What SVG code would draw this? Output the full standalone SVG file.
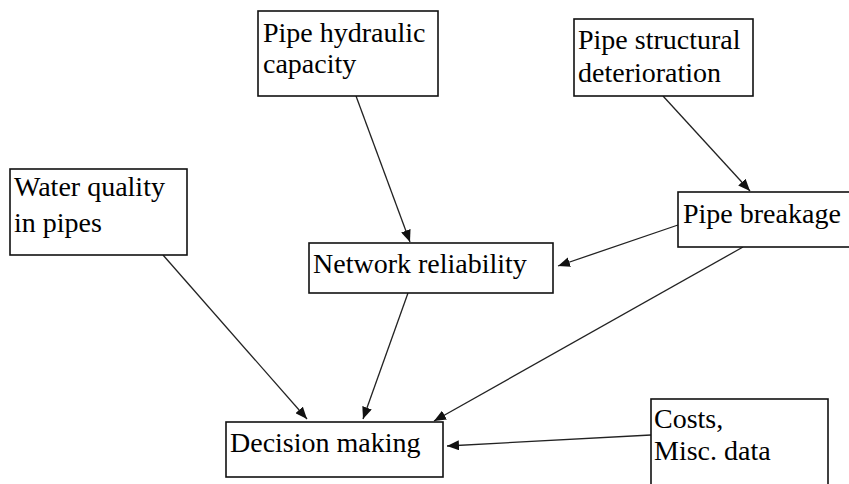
<svg xmlns="http://www.w3.org/2000/svg" width="849" height="484" viewBox="0 0 849 484">
<style>
.box{fill:#fff;stroke:#111;stroke-width:1.6}
.t{font-family:'Liberation Serif','Times New Roman',serif;font-size:28px;fill:#000}
.c{stroke:#222;stroke-width:1.3;fill:none;marker-end:url(#ah)}
</style>
<defs>
<marker id="ah" viewBox="0 0 12 10" refX="12" refY="5" markerWidth="12" markerHeight="10" markerUnits="userSpaceOnUse" orient="auto">
<path d="M0,0 L12,5 L0,10 Z" fill="#111"/>
</marker>
</defs>
<rect width="849" height="484" fill="#fff"/>
<g id="connectors">
<line class="c" x1="356" y1="96" x2="410" y2="242"/>
<line class="c" x1="663" y1="96" x2="750" y2="191"/>
<line class="c" x1="678" y1="225" x2="558" y2="266"/>
<line class="c" x1="163" y1="255" x2="307" y2="419"/>
<line class="c" x1="408" y1="293" x2="363" y2="419"/>
<line class="c" x1="743" y1="247" x2="434" y2="421"/>
<line class="c" x1="651" y1="435" x2="447" y2="446"/>
</g>
<g id="hydraulic">
<rect class="box" x="258" y="11" width="180" height="85"/>
<text class="t" x="263" y="42">Pipe hydraulic</text>
<text class="t" x="263" y="73">capacity</text>
</g>
<g id="structural">
<rect class="box" x="574" y="19" width="179" height="77"/>
<text class="t" x="578" y="49">Pipe structural</text>
<text class="t" x="578" y="82">deterioration</text>
</g>
<g id="water">
<rect class="box" x="10" y="169" width="177" height="86"/>
<text class="t" x="14" y="196">Water quality</text>
<text class="t" x="14" y="232">in pipes</text>
</g>
<g id="network">
<rect class="box" x="309" y="243" width="244" height="50"/>
<text class="t" x="313" y="273">Network reliability</text>
</g>
<g id="breakage">
<rect class="box" x="678" y="192" width="180" height="55"/>
<text class="t" x="683" y="223">Pipe breakage</text>
</g>
<g id="decision">
<rect class="box" x="226" y="422" width="217" height="55"/>
<text class="t" x="230" y="452">Decision making</text>
</g>
<g id="costs">
<rect class="box" x="651" y="399" width="177" height="100"/>
<text class="t" x="654" y="428">Costs,</text>
<text class="t" x="654" y="460">Misc. data</text>
</g>
</svg>
